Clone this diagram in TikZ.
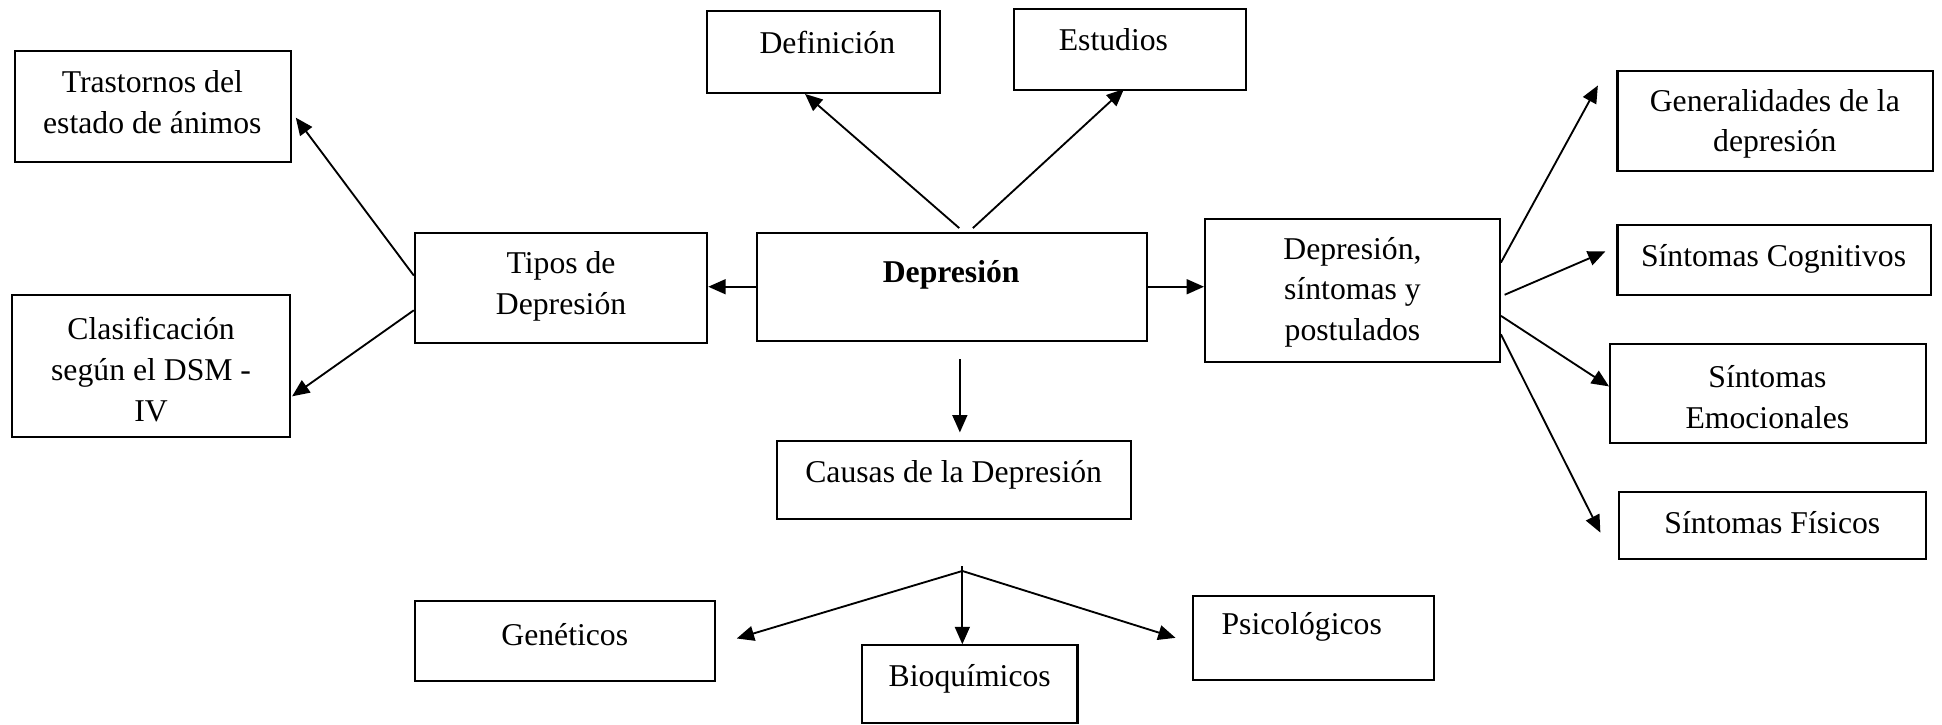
\documentclass[tikz,border=0pt]{standalone}
\usepackage{fontspec}
\setmainfont{Liberation Serif}
\usetikzlibrary{arrows.meta,calc}
\tikzset{
  box/.style={draw=black, line width=0.85pt, inner sep=0pt},
  txt/.style={align=center, inner sep=0pt, font=\fontsize{12.8}{16.5}\selectfont},
  arr/.style={line width=0.75pt, -{Triangle[length=7pt,width=6pt]}},
  ln/.style={line width=0.75pt}
}
\begin{document}
\begin{tikzpicture}[x=0.5pt,y=-0.5pt]
\useasboundingbox[fill=white] (0,0) rectangle (1568,585);
% boxes
\node[box, minimum width=111.5pt, minimum height=45pt] (tras) at (123.5,86) {};
\node[box, minimum width=112pt, minimum height=57.5pt] (clas) at (122,295.5) {};
\node[box, minimum width=118pt, minimum height=44.5pt] (tipos) at (453,232.5) {};
\node[box, minimum width=94pt, minimum height=33pt] (def) at (665,42) {};
\node[box, minimum width=93.5pt, minimum height=33pt] (est) at (912.5,40) {};
\node[box, minimum width=157.5pt, minimum height=43.5pt] (dep) at (768.5,231.5) {};
\node[box, minimum width=119pt, minimum height=57.5pt] (dsp) at (1092,234.5) {};
\node[box, minimum width=127.5pt, minimum height=40.5pt] (gen) at (1433.5,97.5) {};
\node[box, minimum width=126.5pt, minimum height=28pt] (cog) at (1432.5,210) {};
\node[box, minimum width=127.5pt, minimum height=40pt] (emo) at (1427.5,318) {};
\node[box, minimum width=124pt, minimum height=27pt] (fis) at (1431,424) {};
\node[box, minimum width=143pt, minimum height=31.5pt] (cau) at (770,387.5) {};
\node[box, minimum width=121pt, minimum height=32.5pt] (genet) at (456,517.5) {};
\node[box, minimum width=87pt, minimum height=31.5pt] (bio) at (783,552.5) {};
\node[box, minimum width=97.5pt, minimum height=34pt] (psi) at (1060.5,515) {};
% texts
\node[txt] (trast) at (123,82.5) {Trastornos del\\estado de ánimos};
\node[txt] (clast) at (122,298.5) {Clasificación\\según el DSM -\\IV};
\node[txt] (tipost) at (453,231) {Tipos de\\Depresión};
\node[txt] (deft) at (668,34) {Definición};
\node[txt] (estt) at (899,32) {Estudios};
\node[txt, font=\fontsize{12.8}{16.5}\selectfont\bfseries] (dept) at (768,222) {Depresión};
\node[txt] (dspt) at (1092,236) {Depresión,\\síntomas y\\postulados};
\node[txt] (gent) at (1433,100) {Generalidades de la\\depresión};
\node[txt] (cogt) at (1432,209) {Síntomas Cognitivos};
\node[txt] (emot) at (1427,320.5) {Síntomas\\Emocionales};
\node[txt] (fist) at (1431,422) {Síntomas Físicos};
\node[txt] (caut) at (770,383) {Causas de la Depresión};
\node[txt] (genett) at (456,512) {Genéticos};
\node[txt] (biot) at (783,548) {Bioquímicos};
\node[txt] (psit) at (1051,506) {Psicológicos};
% connectors
\draw[arr] ($(tipos.west)+(0,-10)$) -- ($(tras.east)+(3,9)$);
\draw[arr] ($(tipos.west)+(0,18)$) -- ($(clas.east)+(1,24.5)$);
\draw[arr] (dep.west) -- (dep.west -| tipos.east);
\draw[arr] ($(dep.north)+(6,-3)$) -- ($(def.south)+(-15,0)$);
\draw[arr] ($(dep.north)+(17,-3)$) -- ($(est.south)+(-5,-2)$);
\draw[arr] (dep.east) -- (dep.east -| dsp.west);
\coordinate (dn) at (775,290);
\draw[arr] (dn) -- ($(cau.north)+(5,-6)$);
\coordinate (fantop) at (777,457);
\coordinate (fan) at (777,461);
\draw[ln] (fantop) -- (fan);
\draw[arr] (fan) -- ($(genet.east)+(17,-2)$);
\draw[arr] (fan) -- ($(bio.north)+(-6,0)$);
\draw[arr] (fan) -- ($(psi.west)+(-13,0)$);
\draw[arr] ($(dsp.east)+(0,-22.5)$) -- ($(gen.west)+(-15,-28.5)$);
\draw[arr] ($(dsp.east)+(3,3.5)$) -- ($(cog.west)+(-9,-7)$);
\draw[arr] ($(dsp.east)+(0,20.5)$) -- ($(emo.west)+(0,-6)$);
\draw[arr] ($(dsp.east)+(0,35.5)$) -- ($(fis.west)+(-14,6)$);
\end{tikzpicture}
\end{document}
